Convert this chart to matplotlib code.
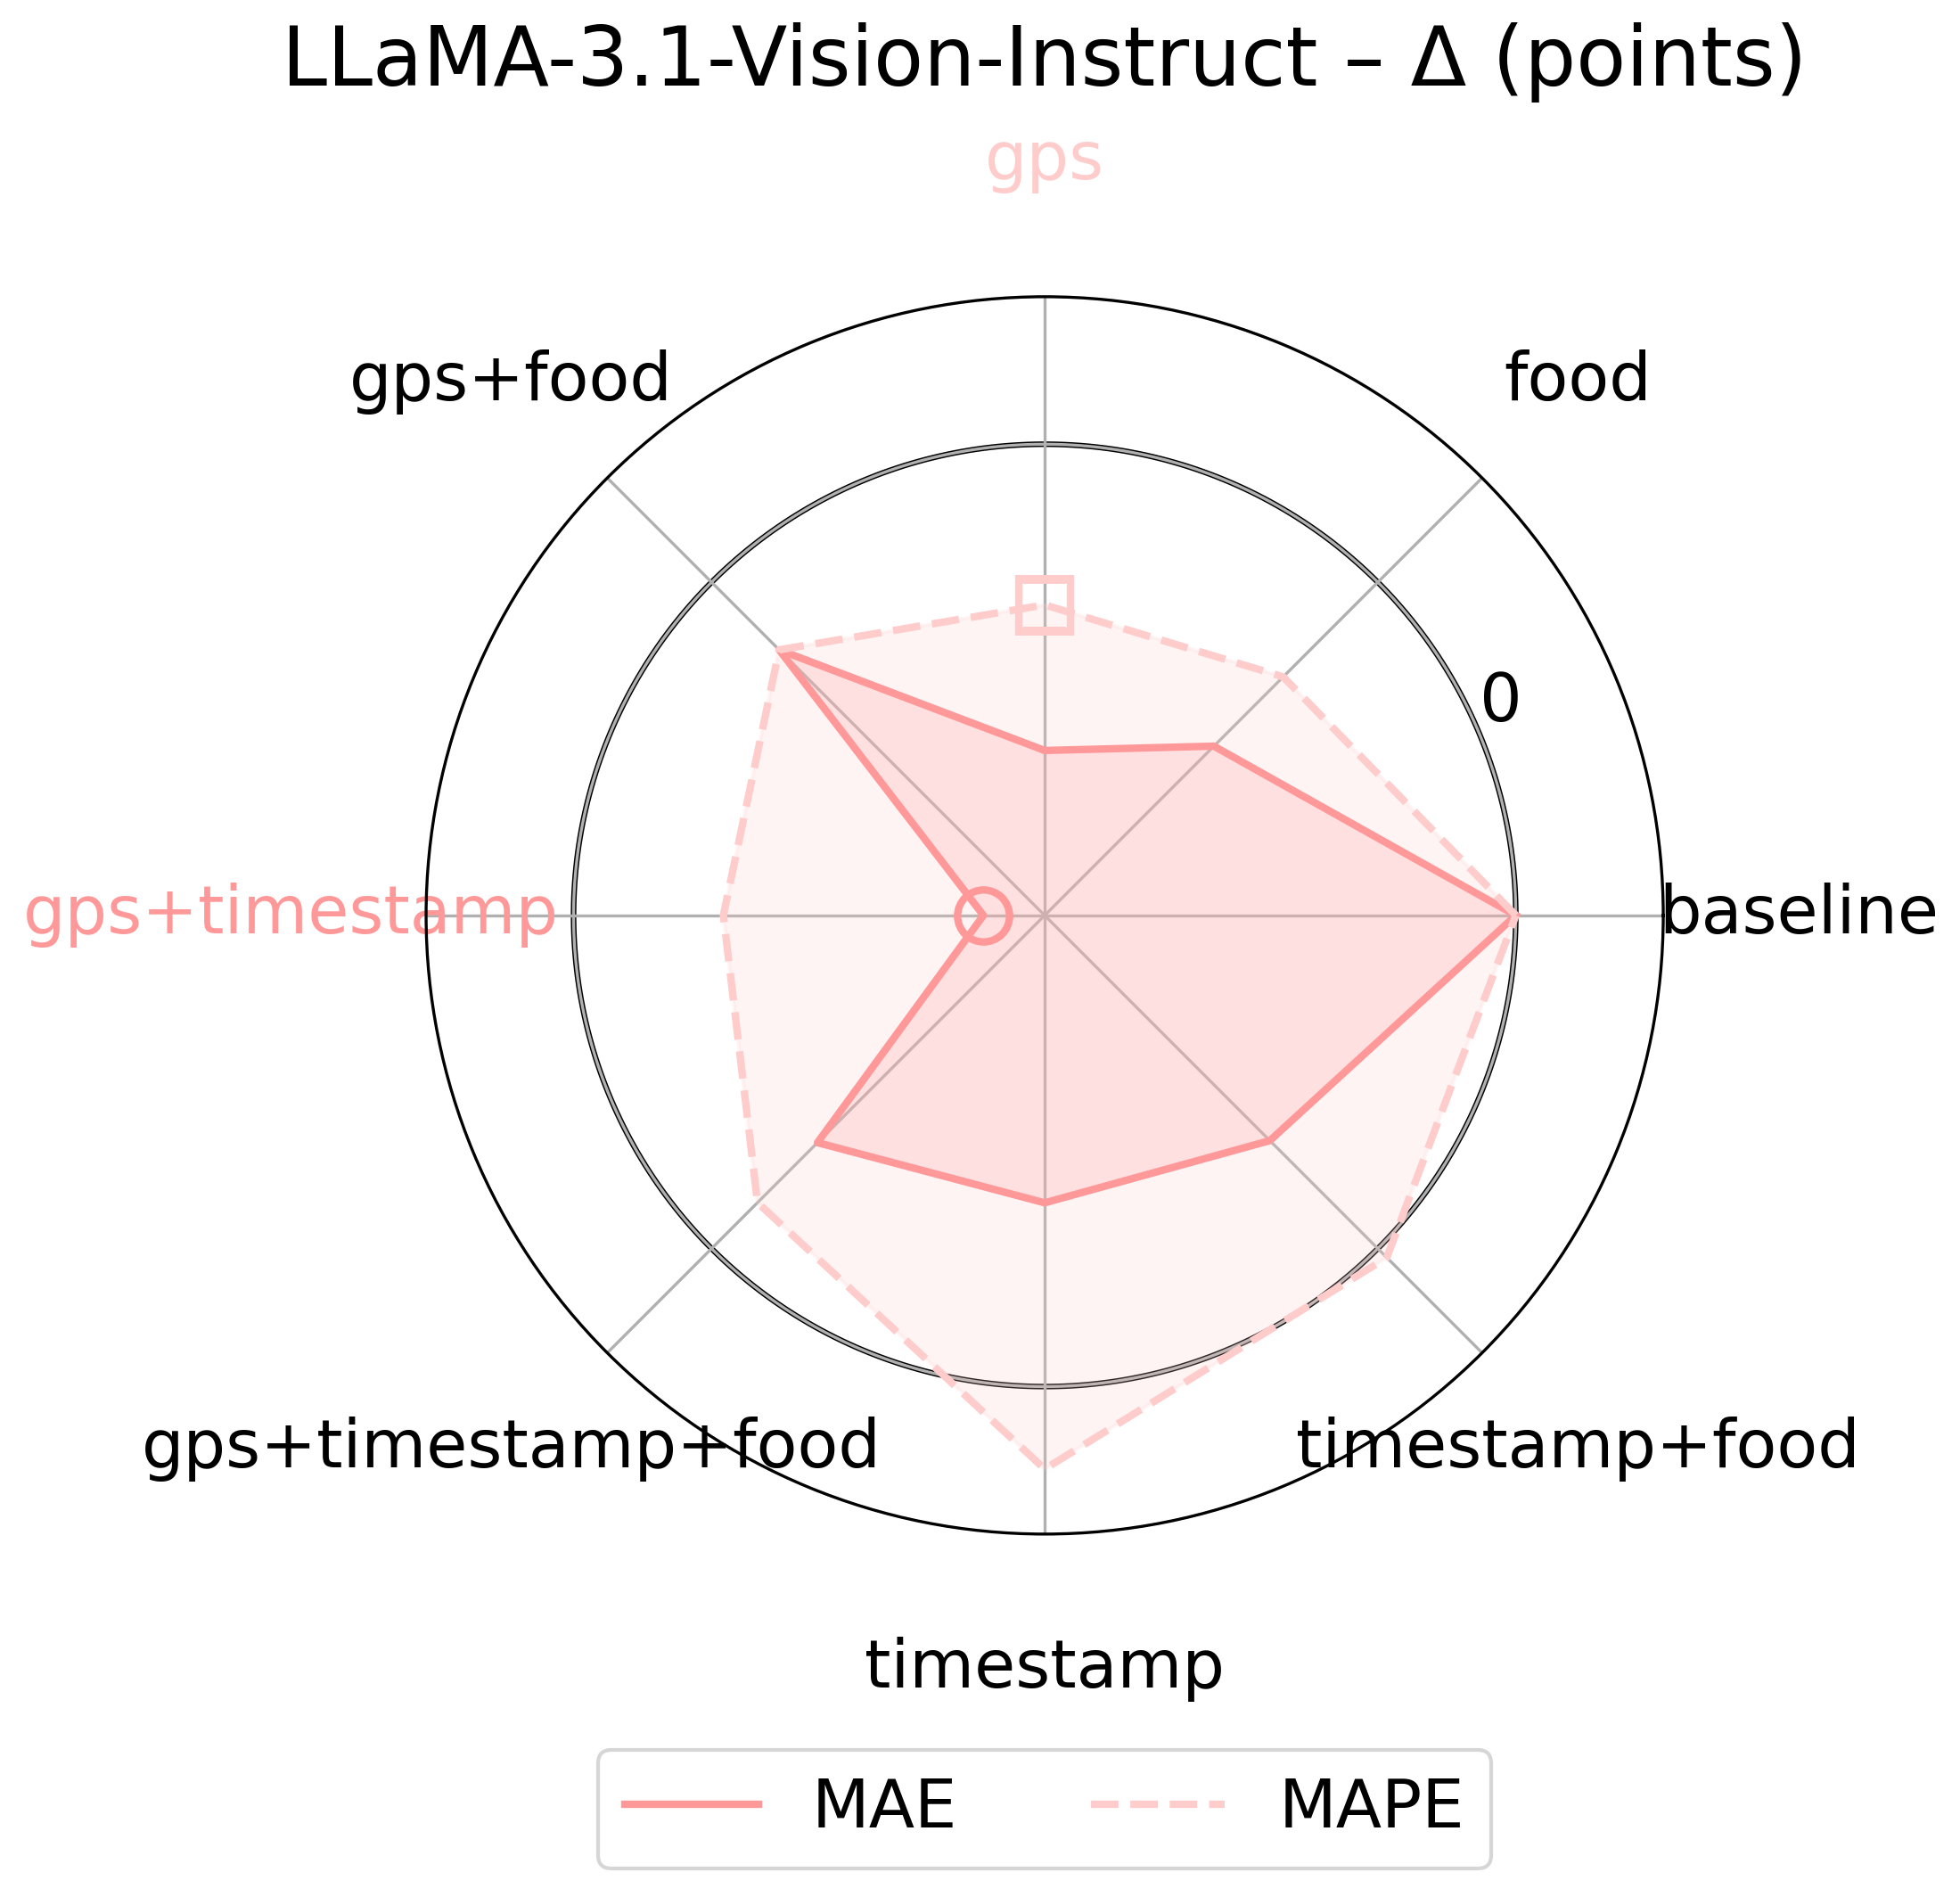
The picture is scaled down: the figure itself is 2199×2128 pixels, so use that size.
import numpy as np
import matplotlib
matplotlib.use("Agg")
import matplotlib.pyplot as plt

# categories, counter-clockwise from the right
categories = ["baseline", "food", "gps", "gps+food", "gps+timestamp",
              "gps+timestamp+food", "timestamp", "timestamp+food"]

# delta vs baseline (points)
mae_delta = [0.0, -4.92, -6.50, -2.03, -8.70, -3.18, -3.90, -3.24]
mape_delta = [0.0, -2.84, -3.41, -2.03, -3.18, -1.38, 1.75, 0.27]

mae_color = "#ff9999"
mape_color = "#ffcccc"

n = len(categories)
angles = np.linspace(0, 2 * np.pi, n, endpoint=False)
ang_closed = np.append(angles, angles[0])

fig = plt.figure(figsize=(2199 / 300, 2128 / 300), dpi=300)
ax = fig.add_axes([0.2174, 0.1913, 0.6312, 0.6523], projection="polar")

# zero reference ring
ring = np.linspace(0, 2 * np.pi, 400)
ax.plot(ring, np.zeros_like(ring), color="black", lw=1.5, zorder=1)
ax.plot(ring, np.zeros_like(ring), color="#b0b0b0", lw=0.8, zorder=1.2)

mae_c = np.append(mae_delta, mae_delta[0])
mape_c = np.append(mape_delta, mape_delta[0])

ax.plot(ang_closed, mae_c, color=mae_color, lw=2, ls="-", label="MAE", zorder=3)
ax.fill(ang_closed, mae_c, color=mae_color, alpha=0.25, zorder=2)
ax.plot(ang_closed, mape_c, color=mape_color, lw=2, ls="--", label="MAPE", zorder=3)
ax.fill(ang_closed, mape_c, color=mape_color, alpha=0.2, zorder=2)

# mark best (lowest) setting of each metric
i_mae = int(np.argmin(mae_delta))
i_mape = int(np.argmin(mape_delta))
ax.plot(angles[i_mae], mae_delta[i_mae], marker="o", ms=14, mfc="none",
        mec=mae_color, mew=2, zorder=4)
ax.plot(angles[i_mape], mape_delta[i_mape], marker="s", ms=14, mfc="none",
        mec=mape_color, mew=2, zorder=4)

ax.set_ylim(-10, 3.13)
ax.set_yticks([0])
ax.set_yticklabels(["0"], fontsize=18)
ax.set_xticks(angles)
ax.set_xticklabels(categories, fontsize=18)
ax.tick_params(axis="x", pad=26)
ax.grid(True, color="#b0b0b0", lw=0.8)
ax.yaxis.grid(False)

for i, lab in enumerate(ax.get_xticklabels()):
    if i == i_mae:
        lab.set_color(mae_color)
    elif i == i_mape:
        lab.set_color(mape_color)

fig.text(0.5327, 0.967, "LLaMA-3.1-Vision-Instruct – Δ (points)",
         fontsize=22, ha="center", va="center")

ax.legend(loc="center", bbox_to_anchor=(0.5, -0.2226), ncol=2, fontsize=18)

fig.savefig("out.png", dpi=300)
